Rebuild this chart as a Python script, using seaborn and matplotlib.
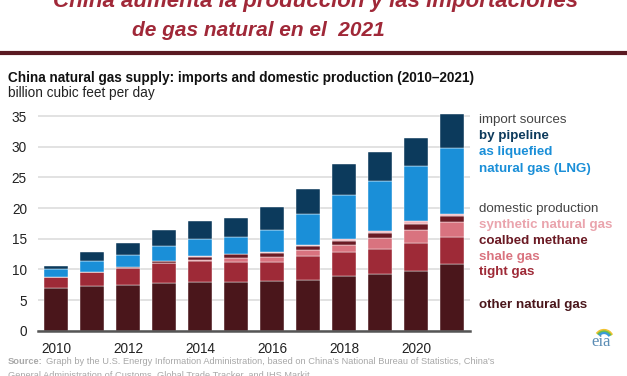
import matplotlib.pyplot as plt
import pandas as pd
import seaborn as sns
from matplotlib.lines import Line2D
from matplotlib.patches import Arc

years = [str(y) for y in range(2010, 2022)]
# domestic production, billion cubic feet per day
other_gas = [6.9, 7.3, 7.45, 7.8, 7.9, 8.0, 8.1, 8.25, 8.9, 9.25, 9.8, 10.8]
tight_gas = [1.8, 2.2, 2.7, 3.2, 3.4, 3.2, 3.1, 3.95, 3.9, 4.15, 4.5, 4.5]
shale_gas = [0.0, 0.0, 0.05, 0.1, 0.2, 0.6, 0.75, 0.9, 1.1, 1.65, 2.1, 2.4]
coalbed_methane = [0.1, 0.1, 0.15, 0.2, 0.5, 0.65, 0.75, 0.7, 0.8, 0.85, 1.0, 0.95]
synthetic_gas = [0.0, 0.0, 0.0, 0.0, 0.1, 0.1, 0.15, 0.2, 0.2, 0.3, 0.5, 0.45]
# imports
lng = [1.3, 1.8, 1.95, 2.55, 2.8, 2.65, 3.5, 5.0, 7.3, 8.2, 9.0, 10.7]
pipeline = [0.4, 1.4, 2.05, 2.6, 3.0, 3.25, 3.75, 4.1, 4.9, 4.8, 4.5, 5.6]

series = ["other natural gas", "tight gas", "shale gas", "coalbed methane",
          "synthetic natural gas", "as liquefied natural gas (LNG)", "by pipeline"]
colors = ["#4a161b", "#9e2a37", "#d9737f", "#6b1a24", "#f0b3ba", "#1a8fd8", "#0c3a5c"]

df = pd.DataFrame({
    "year": years,
    series[0]: other_gas,
    series[1]: tight_gas,
    series[2]: shale_gas,
    series[3]: coalbed_methane,
    series[4]: synthetic_gas,
    series[5]: lng,
    series[6]: pipeline,
})
bottoms = df[series].cumsum(axis=1).shift(1, axis=1).fillna(0)

sns.set_theme(style="white")
plt.rcParams["font.family"] = ["Liberation Sans", "DejaVu Sans"]

W, H = 627, 376
fig = plt.figure(figsize=(W / 100, H / 100), dpi=100)
y0_px, per_unit = 330.7, 6.134
ymax = 36
ax = fig.add_axes([38 / W, (H - y0_px) / H, 432 / W, ymax * per_unit / H])

for name, col in zip(series, colors):
    sns.barplot(data=df, x="year", y=name, bottom=bottoms[name], color=col,
                order=years, width=0.64, errorbar=None, saturation=1,
                edgecolor="white", linewidth=0.3, ax=ax)

ax.set_xlim(-0.5, 11.5)
ax.set_ylim(0, ymax)
ax.set_yticks(range(0, 36, 5))
ax.set_xticks(range(0, 12, 2))
ax.set_xticklabels(years[::2])
ax.set_xlabel("")
ax.set_ylabel("")
ax.yaxis.grid(True, color="#dddddd", linewidth=1.2)
ax.set_axisbelow(True)
for s in ["top", "right", "left"]:
    ax.spines[s].set_visible(False)
ax.spines["bottom"].set_color("#555555")
ax.spines["bottom"].set_linewidth(1.8)
ax.tick_params(axis="y", length=0, pad=8, labelsize=9.8, labelcolor="#222222")
ax.tick_params(axis="x", length=0, pad=8, labelsize=9.8, labelcolor="#222222")

# headline (first line cut off by the frame, as in the source image)
fig.text(316 / W, 1 - 7 / H, "China aumenta la producción y las importaciones",
         ha="center", va="baseline", fontsize=16, fontweight="bold", style="italic",
         color="#a02838")
fig.text(258 / W, 1 - 36 / H, "de gas natural en el  2021",
         ha="center", va="baseline", fontsize=15, fontweight="bold", style="italic",
         color="#a02838")
fig.add_artist(Line2D([0, 1], [1 - 52.5 / H] * 2, color="#5a1a22", linewidth=3,
                      transform=fig.transFigure))

fig.text(8 / W, 1 - 78 / H,
         "China natural gas supply: imports and domestic production (2010\u20132021)",
         ha="left", va="center", fontsize=9.8, fontweight="bold", color="#111111")
fig.text(8 / W, 1 - 93 / H, "billion cubic feet per day",
         ha="left", va="center", fontsize=9.8, color="#222222")

legend_rows = [
    ("import sources", 120.5, "#444444", "normal"),
    ("by pipeline", 136.5, "#0c3a5c", "bold"),
    ("as liquefied", 152.5, "#1a8fd8", "bold"),
    ("natural gas (LNG)", 168.5, "#1a8fd8", "bold"),
    ("domestic production", 209, "#444444", "normal"),
    ("synthetic natural gas", 225, "#eaa4ad", "bold"),
    ("coalbed methane", 241, "#6b1a24", "bold"),
    ("shale gas", 257, "#d9737f", "bold"),
    ("tight gas", 272.5, "#9e2a37", "bold"),
    ("other natural gas", 305, "#4a161b", "bold"),
]
for txt, ypx, col, wt in legend_rows:
    fig.text(479 / W, 1 - ypx / H, txt, ha="left", va="center", fontsize=9.6,
             color=col, fontweight=wt)

src_label = fig.text(8 / W, 1 - 362 / H, "Source:", ha="left", va="center",
                     fontsize=6.7, fontweight="bold", color="#a8a8a8")
fig.canvas.draw()
src_end = src_label.get_window_extent().x1 / W
fig.text(src_end + 3 / W, 1 - 362 / H,
         "Graph by the U.S. Energy Information Administration, based on China's "
         "National Bureau of Statistics, China's",
         ha="left", va="center", fontsize=6.7, color="#a8a8a8")
fig.text(8 / W, 1 - 375 / H,
         "General Administration of Customs, Global Trade Tracker, and IHS Markit",
         ha="left", va="center", fontsize=6.7, color="#a8a8a8")

# eia logo
fig.text(601 / W, 1 - 342 / H, "eia", ha="center", va="center", fontsize=12,
         color="#5b8db5", family=["Liberation Serif", "DejaVu Serif"])
for r, c in [(9, "#f2c230"), (7.5, "#6cbf4b"), (6, "#3a9ad9")]:
    fig.add_artist(Arc((604 / W, 1 - 339 / H), 2 * r / W, 2 * r / H,
                       theta1=40, theta2=130, color=c, linewidth=1.6,
                       transform=fig.transFigure))

fig.savefig("out.png", dpi=100)
